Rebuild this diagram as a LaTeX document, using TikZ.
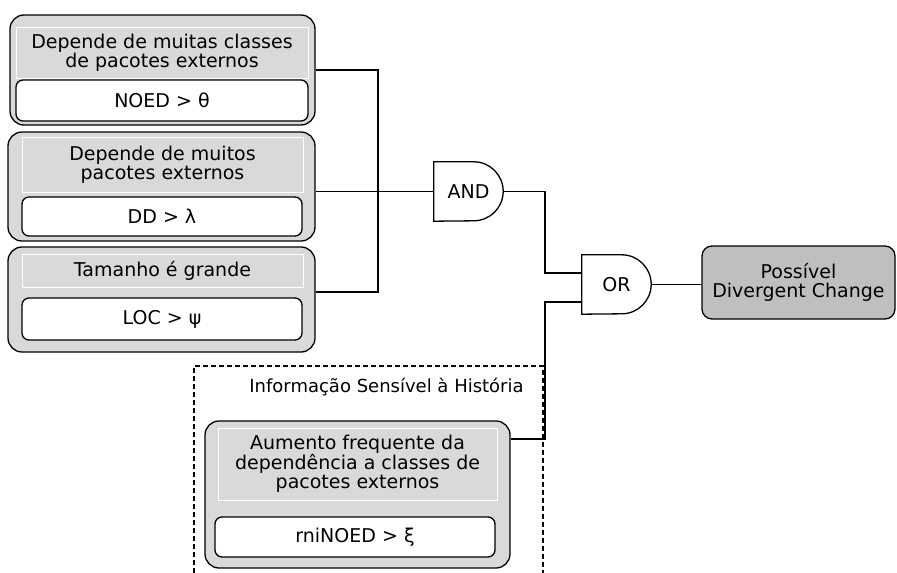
\documentclass[tikz,border=0pt]{standalone}
\usepackage{fontspec}
\setmainfont{DejaVu Sans}
\newdimen\unitsize
\setlength{\unitsize}{1pt}
\begin{document}
\begin{tikzpicture}[x=\unitsize,y=-\unitsize]
\tikzset{cond/.style={draw,line width=1.3pt,rounded corners=14pt,fill=gray!30,inner sep=0pt}}%
\tikzset{head/.style={draw=white,line width=0.8pt,fill=gray!30,inner sep=0pt,align=center,font=\fontsize{19}{19}\selectfont}}%
\tikzset{metric/.style={draw,line width=1.3pt,rounded corners=7pt,fill=white,inner sep=0pt,font=\fontsize{19}{19}\selectfont}}%
\tikzset{gate/.style={inner sep=0pt,minimum width=69pt,minimum height=59pt,font=\fontsize{19}{19}\selectfont}}%
\tikzset{wire/.style={line width=1.3pt}}%
\useasboundingbox (0,0) rectangle (897,573);
% condicoes
\node[cond,minimum width=305pt,minimum height=110pt] (noedbox) at (162.5,70) {};
\node[head,minimum width=292pt,minimum height=51pt] (noedhead) at (162,52.5) {Depende de muitas classes\\de pacotes externos};
\node[metric,minimum width=292pt,minimum height=41pt] (noed) at (162,100.5) {NOED > θ};
\node[cond,minimum width=307pt,minimum height=109pt] (ddbox) at (161.5,186.5) {};
\node[head,minimum width=281pt,minimum height=55pt] (ddhead) at (162.5,164.5) {Depende de muitos\\pacotes externos};
\node[metric,minimum width=280pt,minimum height=39pt] (dd) at (162,216.5) {DD > λ};
\node[cond,minimum width=307pt,minimum height=105pt] (locbox) at (161.5,299.5) {};
\node[head,minimum width=281pt,minimum height=33pt] (lochead) at (162.5,270.5) {Tamanho é grande};
\node[metric,minimum width=280pt,minimum height=42pt] (loc) at (162,319) {LOC > ψ};
% informacao historica
\draw[line width=1.3pt,dash pattern=on 5pt off 3pt] (194,573) -- (194,366) -- (543,366) -- (543,573);
\node[font=\fontsize{18}{18}\selectfont] (histlabel) at (386.5,387) {Informação Sensível à História};
\node[cond,minimum width=305pt,minimum height=147pt] (histbox) at (357.5,494.5) {};
\node[head,minimum width=279pt,minimum height=72pt] (histhead) at (357.5,464) {Aumento frequente da\\dependência a classes de\\pacotes externos};
\node[metric,minimum width=280pt,minimum height=40pt] (hist) at (355,537) {rniNOED > ξ};
% portas
\node[gate] (and) at (468.5,191.5) {AND};
\draw[wire] (and.north west) -- ([xshift=-29.5pt]and.north east) arc[start angle=90,end angle=-90,radius=29.5pt] -- (and.south west) -- cycle;
\node[gate] (or) at (616.5,284.5) {OR};
\draw[wire] (or.north west) -- ([xshift=-29.5pt]or.north east) arc[start angle=90,end angle=-90,radius=29.5pt] -- (or.south west) -- cycle;
\node[draw,line width=1.3pt,rounded corners=10pt,fill=gray!50,inner sep=0pt,minimum width=193pt,minimum height=73pt,align=center,font=\fontsize{19}{19}\selectfont] (result) at (798.5,282.5) {Possível\\Divergent Change};
% ligacoes
\coordinate (bus) at (378,292);
\draw[wire] (noedbox.east) -| (bus) -- ([yshift=7.5pt]locbox.east);
\draw[wire] (and.west) -- (and.west -| ddbox.east);
\coordinate (andout) at (545,273);
\draw[wire] (and.east) -| (andout) -- ([yshift=11.5pt]or.west);
\coordinate (histin) at (545,439);
\draw[wire] (histbox.east |- histin) -- (histin) |- ([yshift=-17.5pt]or.west);
\draw[wire] (or.east) -- (or.east -| result.west);
\end{tikzpicture}
\end{document}
